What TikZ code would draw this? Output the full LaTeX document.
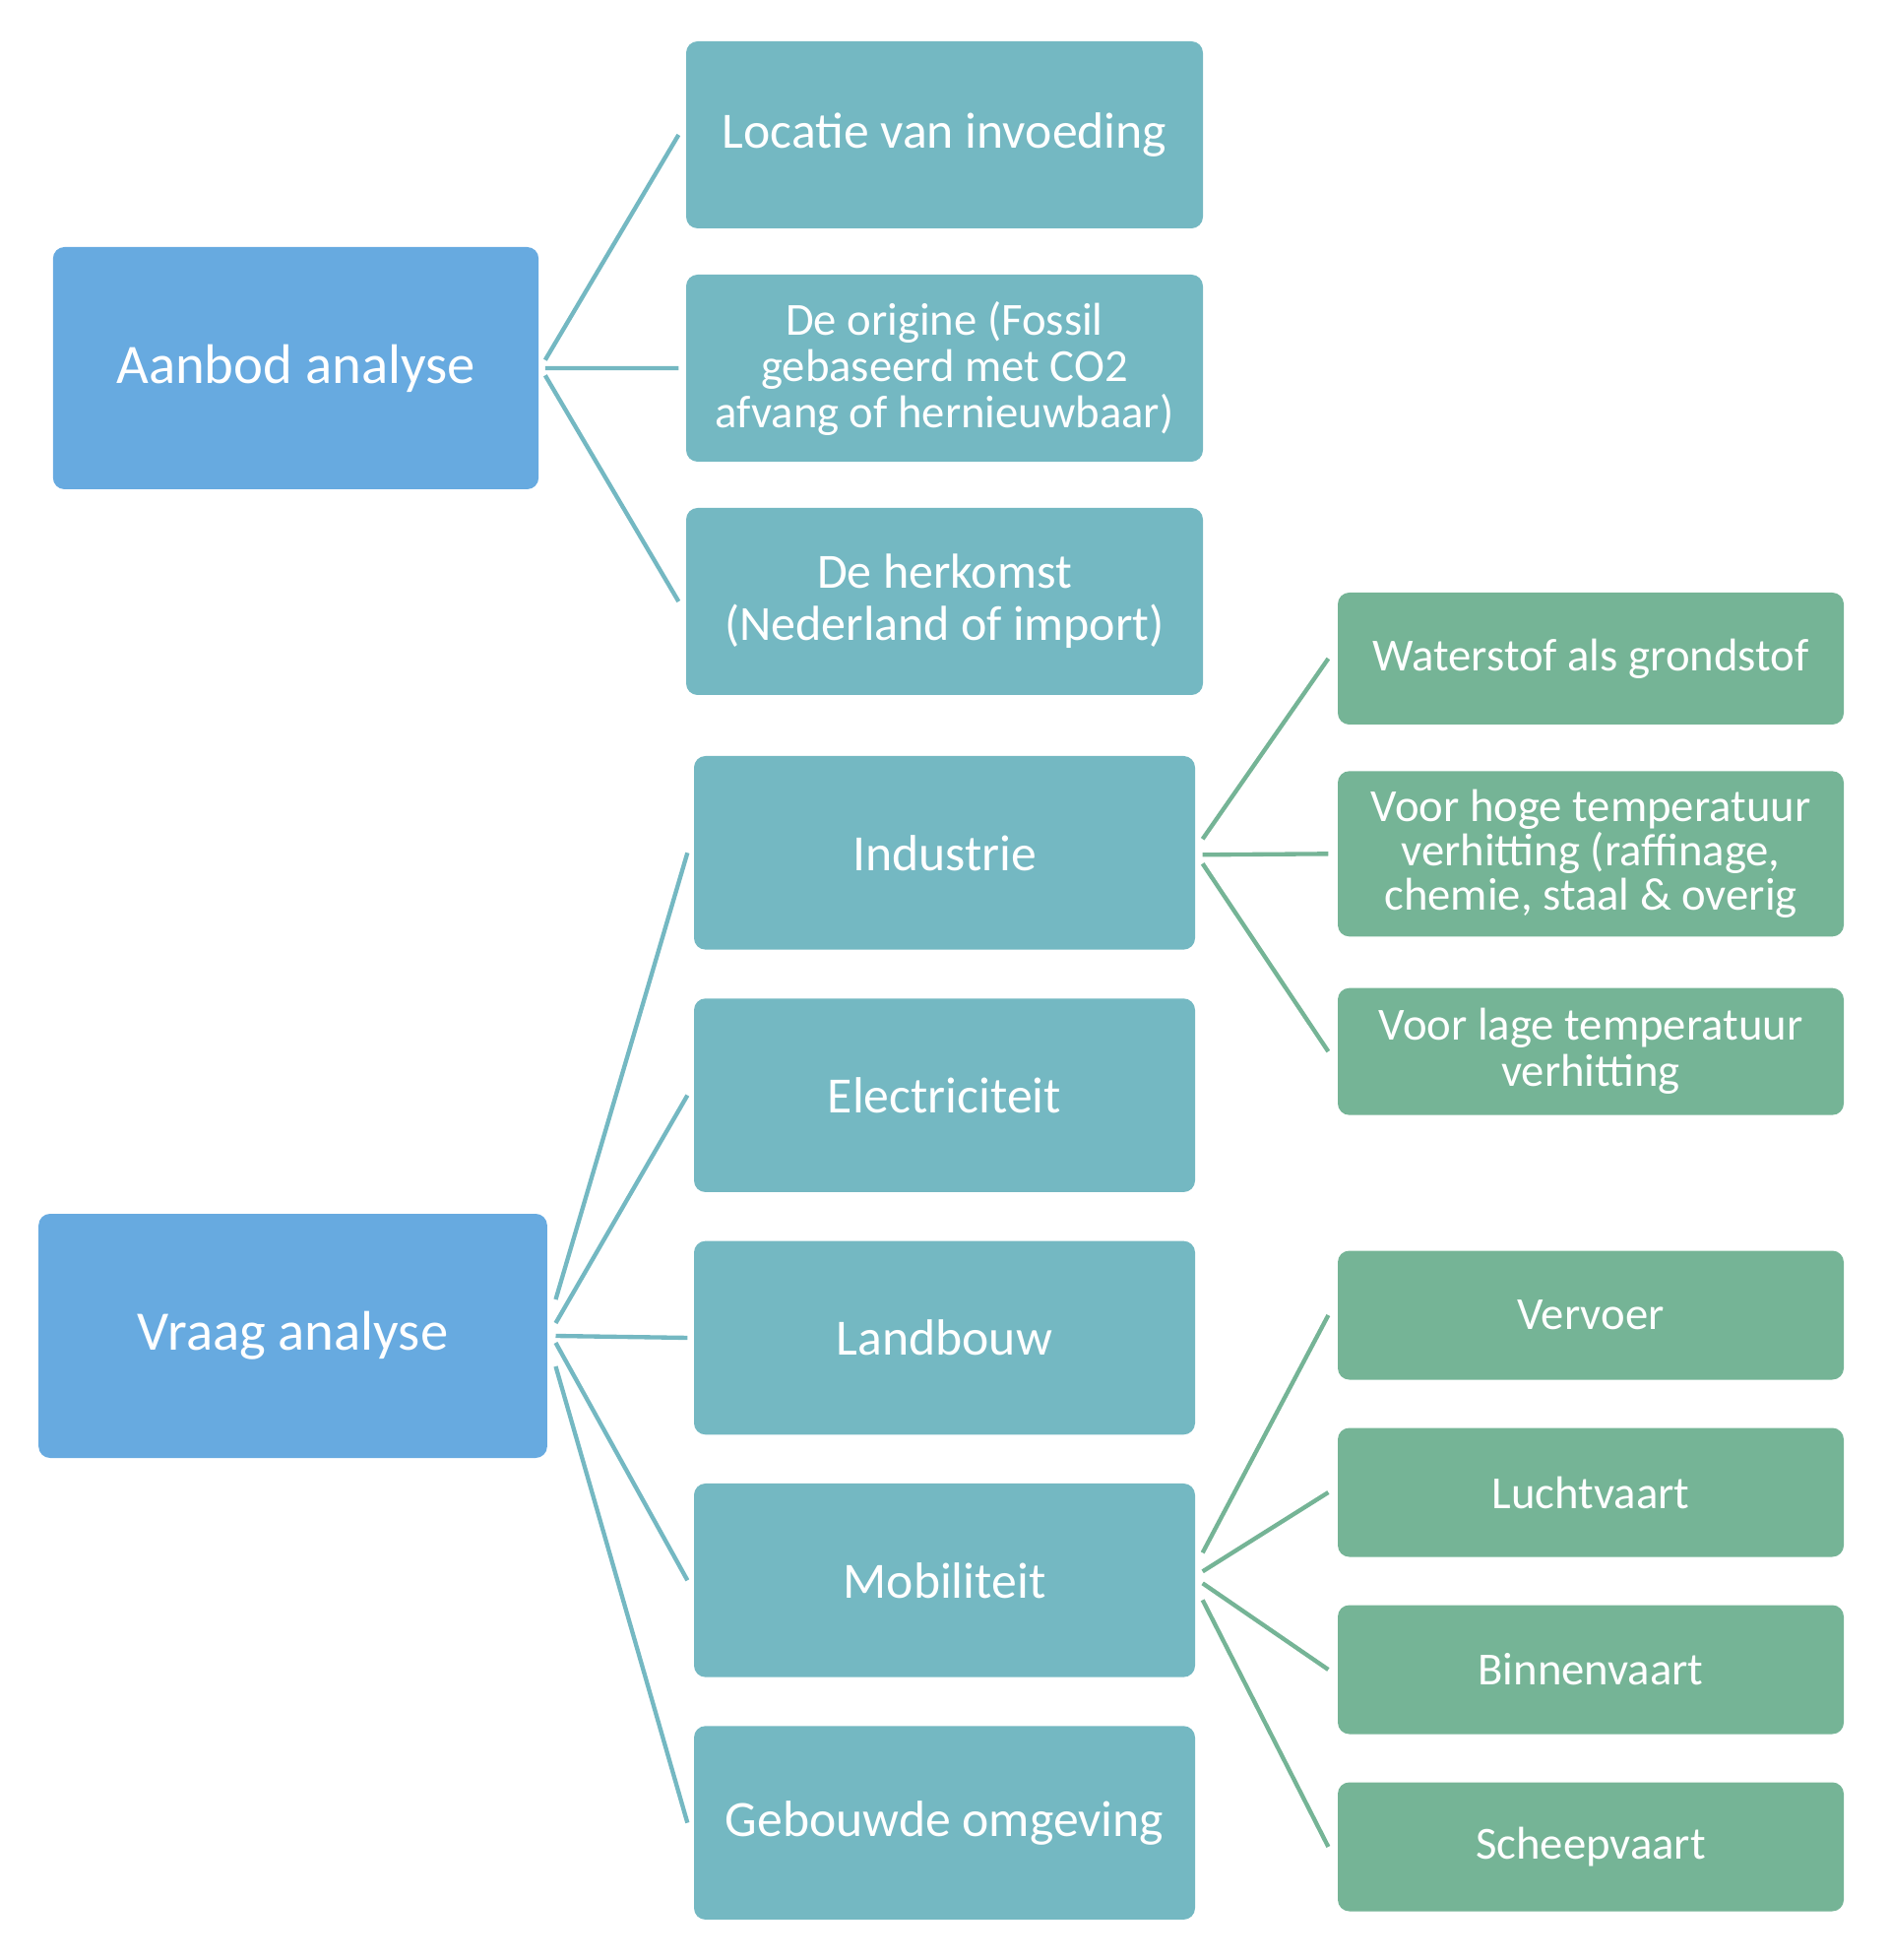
\documentclass[tikz,border=0pt]{standalone}
\usepackage{fontspec}
\setmainfont{Carlito}
\usepackage{tikz}
\usetikzlibrary{positioning}
\definecolor{hoofdblauw}{RGB}{103,170,224}
\definecolor{subteal}{RGB}{116,184,194}
\definecolor{detailgroen}{RGB}{117,180,150}

\begin{document}
\begin{tikzpicture}[x=0.3pt, y=-0.3pt,
		vak/.style={rounded corners=3.5pt, text=white, align=center, inner sep=0pt},
		hoofdvak/.style={vak, fill=hoofdblauw, font=\fontsize{17}{20}\selectfont},
		subvak/.style={vak, fill=subteal, font=\fontsize{15.5}{17}\selectfont},
		detailvak/.style={vak, fill=detailgroen, font=\fontsize{14}{13.6}\selectfont, minimum width=154.2pt},
		tak/.style={draw=subteal, line width=1.3pt},
		groentak/.style={draw=detailgroen, line width=1.3pt}]
	\useasboundingbox (0,0) rectangle (1920,1991);

	% hoofdvakken
	\node[hoofdvak, minimum width=148pt, minimum height=73.8pt] (aanbod) at (300.5,374) {Aanbod analyse};
	\node[hoofdvak, minimum width=155pt, minimum height=74.4pt] (vraag) at (297.5,1357) {Vraag analyse};

	% aanbod
	\node[subvak, minimum width=157.5pt, minimum height=57pt] (locatie) at (959.5,137) {Locatie van invoeding};
	\node[subvak, minimum width=157.5pt, minimum height=57pt, below=13.7pt of locatie, font=\fontsize{14}{14.1}\selectfont] (origine) {De origine (Fossil\\gebaseerd met CO2\\afvang of hernieuwbaar)};
	\node[subvak, minimum width=157.5pt, minimum height=57pt, below=13.7pt of origine, font=\fontsize{15}{16}\selectfont] (herkomst) {De herkomst\\(Nederland of import)};

	% vraag
	\node[subvak, minimum width=152.7pt, minimum height=59pt] (industrie) at (959.5,866.3) {Industrie};
	\node[subvak, minimum width=152.7pt, minimum height=59pt, below=14.5pt of industrie] (electriciteit) {Electriciteit};
	\node[subvak, minimum width=152.7pt, minimum height=59pt, below=14.5pt of electriciteit] (landbouw) {Landbouw};
	\node[subvak, minimum width=152.7pt, minimum height=59pt, below=14.5pt of landbouw] (mobiliteit) {Mobiliteit};
	\node[subvak, minimum width=152.7pt, minimum height=59pt, below=14.5pt of mobiliteit] (gebouwd) {Gebouwde omgeving};

	% industrie
	\node[detailvak, minimum height=40.2pt] (waterstof) at (1616,669) {Waterstof als grondstof};
	\node[detailvak, minimum height=50.4pt, below=13.8pt of waterstof] (hoog) {Voor hoge temperatuur\\verhitting (raffinage,\\chemie, staal \& overig};
	\node[detailvak, minimum height=38.7pt, below=15.3pt of hoog, font=\fontsize{14}{14.1}\selectfont] (laag) {Voor lage temperatuur\\verhitting};

	% mobiliteit
	\node[detailvak, minimum height=39.3pt] (vervoer) at (1616,1336) {Vervoer};
	\node[detailvak, minimum height=39.3pt, below=14.3pt of vervoer] (luchtvaart) {Luchtvaart};
	\node[detailvak, minimum height=39.3pt, below=14.3pt of luchtvaart] (binnenvaart) {Binnenvaart};
	\node[detailvak, minimum height=39.3pt, below=14.3pt of binnenvaart] (scheepvaart) {Scheepvaart};

	% takken
	\foreach \kind/\dy in {locatie/2.5, origine/0, herkomst/-2.2}
		\draw[tak] ([shift={(1.8pt,\dy pt)}]aanbod.east) -- ([xshift=-2.1pt]\kind.west);
	\foreach \kind/\dy in {industrie/11.1, electriciteit/3.9, landbouw/0, mobiliteit/-2.1, gebouwd/-9.3}
		\draw[tak] ([shift={(2.4pt,\dy pt)}]vraag.east) -- ([xshift=-1.8pt]\kind.west);
	\foreach \kind/\dy in {waterstof/4.2, hoog/-0.6, laag/-3.3}
		\draw[groentak] ([shift={(2.1pt,\dy pt)}]industrie.east) -- ([xshift=-2.7pt]\kind.west);
	\foreach \kind/\dy in {vervoer/8.4, luchtvaart/2.7, binnenvaart/-0.9, scheepvaart/-6}
		\draw[groentak] ([shift={(2.1pt,\dy pt)}]mobiliteit.east) -- ([xshift=-2.7pt]\kind.west);
\end{tikzpicture}
\end{document}
